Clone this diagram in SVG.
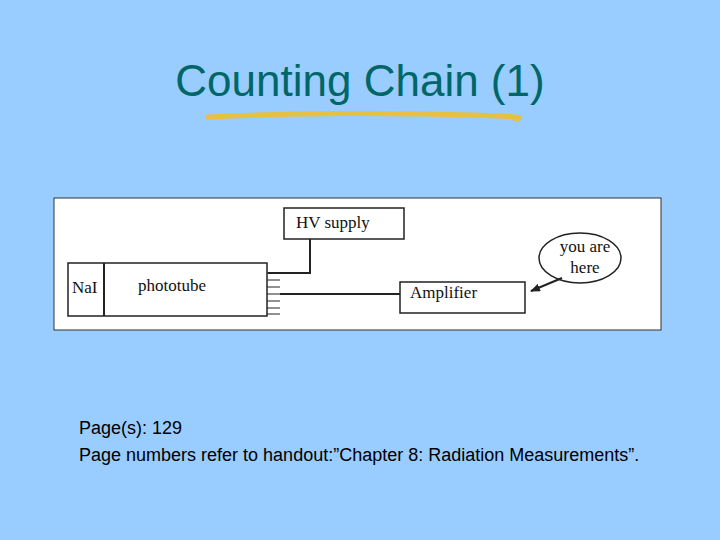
<svg xmlns="http://www.w3.org/2000/svg" width="720" height="540" viewBox="0 0 720 540">
<style>
.t{font-family:"Liberation Serif",serif;font-size:17px;fill:#111}
.b{fill:#fff;stroke:#222;stroke-width:1.5}
.l{stroke:#222;stroke-width:2;fill:none}
.s{font-family:"Liberation Sans",Arial,sans-serif;font-size:18px;fill:#000}
</style>
<defs><marker id="ah" markerWidth="10" markerHeight="8" refX="9" refY="4" orient="auto" markerUnits="userSpaceOnUse"><path d="M0,0 L10,4 L0,8 Z" fill="#222"/></marker></defs>
<rect width="720" height="540" fill="#99ccff"/>
<text x="360" y="96" text-anchor="middle" font-family="Liberation Sans,Arial,sans-serif" font-size="44" fill="#006666">Counting Chain (1)</text>
<path d="M208,117 Q300,112 420,114 T515,119" stroke="#e6c040" stroke-width="5" fill="none" stroke-linecap="round"/>
<rect x="54" y="198" width="607" height="132" fill="#fff" stroke="#333" stroke-width="1"/>
<g id="tube"><rect class="b" x="68" y="263" width="199" height="53" stroke-width="2.5"/><line class="l" x1="104" y1="263" x2="104" y2="316"/><text class="t" x="72" y="293">NaI</text><text class="t" x="138" y="291">phototube</text>
<path d="M267,273H280M267,280H280M267,287H280M267,294H280M267,301H280M267,308H280M267,314H280" stroke="#222" stroke-width="1"/></g>
<g id="hv"><rect class="b" x="284" y="208" width="120" height="31"/><text class="t" x="296" y="228">HV supply</text></g>
<g id="amp"><rect class="b" x="400" y="282" width="125" height="31"/><text class="t" x="410" y="298">Amplifier</text></g>
<g id="here"><ellipse class="b" cx="580" cy="258" rx="41" ry="25"/><text class="t" x="585" y="252" text-anchor="middle">you are</text><text class="t" x="585" y="273" text-anchor="middle">here</text></g>
<g id="connectors"><path class="l" d="M310,239V273H268"/><path class="l" d="M280,294H400"/><path class="l" stroke-width="1.2" d="M562,278L531,291" marker-end="url(#ah)"/></g>
<text class="s" x="79" y="434">Page(s): 129</text>
<text class="s" x="79" y="461">Page numbers refer to handout:”Chapter 8: Radiation Measurements”.</text>
</svg>
